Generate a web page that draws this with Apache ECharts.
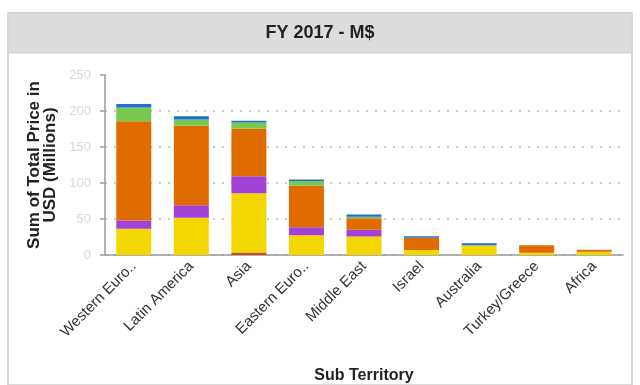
<!DOCTYPE html>
<html>
<head>
<meta charset="utf-8">
<script src="https://cdn.jsdelivr.net/npm/echarts@6/dist/echarts.min.js"></script>
<style>html,body{margin:0;padding:0;background:#fff;}#c{width:640px;height:385px;}</style>
</head>
<body>
<div id="c"></div>
<script>
const categories = ['Western Euro..', 'Latin America', 'Asia', 'Eastern Euro..', 'Middle East', 'Israel', 'Australia', 'Turkey/Greece', 'Africa'];
const yTicks = [0, 50, 100, 150, 200, 250];
const brownVals  = [0, 0, 3.5, 0, 0, 0, 0, 0, 0];
const yellowVals = [36.6, 51.6, 82.4, 27.5, 25.8, 6.8, 13.6, 3.1, 4.5];
const purpleVals = [11.3, 17.6, 23.5, 10.9, 9.1, 0, 0, 0, 0];
const orangeVals = [138, 110.3, 66, 57.9, 16.3, 17.2, 0, 10.4, 2.7];
const greenVals  = [19, 8.6, 8.6, 6.4, 1.8, 0, 0, 0, 0];
const blueVals   = [4.9, 4.6, 2.3, 2.2, 3.1, 2.2, 2.7, 0, 0];

const chart = echarts.init(document.getElementById('c'), null, {renderer: 'canvas'});
const font = '"Liberation Sans", Arial, sans-serif';
function s(name, data, color) {
  return {name: name, type: 'bar', stack: 'total', data: data, barWidth: 35,
    itemStyle: {color: color}, emphasis: {disabled: true}};
}
chart.setOption({
  animation: false,
  textStyle: {fontFamily: font},
  graphic: [
    {type: 'rect', shape: {x: 8, y: 13, width: 624, height: 372}, style: {fill: '#fff', stroke: '#d0d0d0', lineWidth: 1.5}, z: -10},
    {type: 'rect', shape: {x: 8, y: 13, width: 624, height: 40}, style: {fill: '#dcdcdc', stroke: '#d0d0d0', lineWidth: 1}, z: -9},
    {type: 'text', x: 320, y: 33, style: {text: 'FY 2017 - M$', fill: '#222', font: 'bold 18px ' + font, textAlign: 'center', textVerticalAlign: 'middle'}, z: 10}
  ],
  grid: {left: 105, right: 17, top: 75, bottom: 126, containLabel: false},
  xAxis: {
    type: 'category', data: categories,
    name: 'Sub Territory', nameLocation: 'middle', nameGap: 113,
    nameTextStyle: {fontWeight: 'bold', fontSize: 16, color: '#222', fontFamily: font},
    axisLine: {lineStyle: {color: '#999', width: 1.5}},
    axisTick: {alignWithLabel: true, length: 5, lineStyle: {color: '#999', width: 1.5}},
    axisLabel: {rotate: 45, fontSize: 15, color: '#333', margin: 9, interval: 0, fontFamily: font}
  },
  yAxis: {
    type: 'value', min: yTicks[0], max: yTicks[yTicks.length - 1], interval: yTicks[1] - yTicks[0],
    name: 'Sum of Total Price in\nUSD (Millions)', nameLocation: 'middle', nameGap: 46,
    nameTextStyle: {fontWeight: 'bold', fontSize: 17, color: '#222', lineHeight: 16, fontFamily: font},
    axisLine: {show: true, lineStyle: {color: '#999', width: 1.5}},
    axisTick: {show: true, length: 5, lineStyle: {color: '#999', width: 1.5}},
    axisLabel: {fontSize: 13, color: '#d8d8d8', margin: 14, fontFamily: font},
    splitLine: {show: true, showMaxLine: false, lineStyle: {type: [2, 7], color: '#bbb', width: 1.5}}
  },
  series: [
    s('Other', brownVals, '#c0501a'),
    s('A', yellowVals, '#f2d800'),
    s('B', purpleVals, '#a242d8'),
    s('C', orangeVals, '#e06c00'),
    s('D', greenVals, '#78c850'),
    s('E', blueVals, '#1f6fd6')
  ]
});
</script>
</body>
</html>
